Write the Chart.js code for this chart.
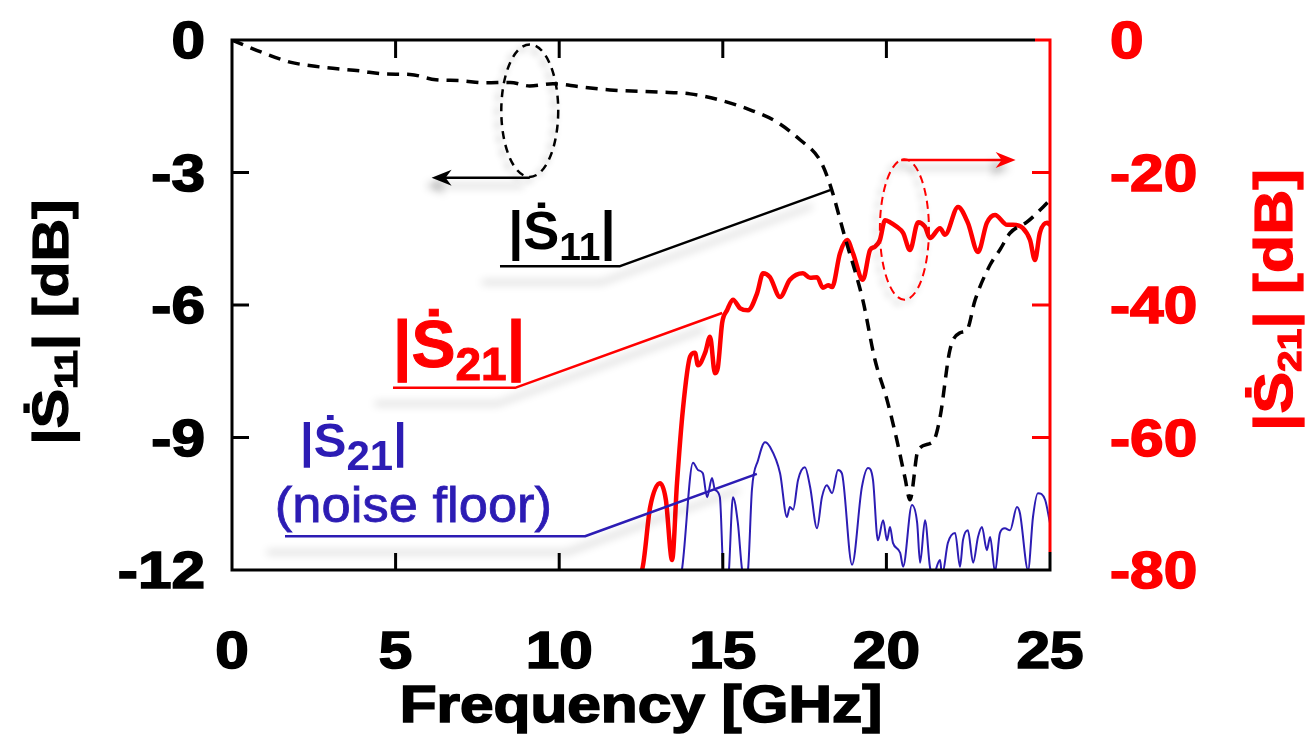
<!DOCTYPE html>
<html>
<head>
<meta charset="utf-8">
<script src="https://cdn.jsdelivr.net/npm/chart.js@4.4.1/dist/chart.umd.min.js"></script>
<style>
  html, body { margin: 0; background: #fff; }
</style>
</head>
<body>
<canvas id="chart" width="1305" height="750"></canvas>
<script>
// |S11| (left axis, dB)
const s11Freq = [0, 0.95, 1.77, 2.69, 3.91, 4.68, 5.44, 6.23, 6.97, 7.73, 8.5, 9.1, 9.81, 10.64, 11.55, 13.08, 14.0, 14.91, 15.83, 16.66, 17.36, 17.97, 18.28, 18.73, 19.28, 19.65, 20.02, 20.32, 20.57, 20.72, 20.97, 21.42, 21.64, 21.94, 22.25, 22.46, 22.71, 23.17, 23.47, 23.78, 24.3, 24.79, 25.0];
const s11Db = [0, -0.29, -0.5, -0.61, -0.7, -0.77, -0.78, -0.9, -0.92, -0.97, -0.96, -1.04, -0.99, -1.06, -1.13, -1.18, -1.22, -1.36, -1.58, -1.86, -2.26, -2.72, -3.28, -4.46, -5.89, -7.24, -8.15, -9.06, -9.92, -10.41, -9.28, -9.1, -8.54, -7.02, -6.63, -6.57, -5.89, -5.09, -4.75, -4.37, -4.12, -3.78, -3.62];

// |S21| (right axis, dB)
const s21Freq = [12.35, 12.53, 12.78, 13.08, 13.26, 13.45, 13.6, 13.78, 14.0, 14.15, 14.24, 14.46, 14.61, 14.76, 14.85, 14.98, 15.13, 15.31, 15.53, 15.77, 16.05, 16.23, 16.44, 16.75, 17.05, 17.45, 17.67, 17.88, 18.06, 18.22, 18.34, 18.58, 18.8, 18.98, 19.28, 19.5, 19.65, 19.8, 19.96, 20.11, 20.32, 20.51, 20.72, 20.97, 21.18, 21.33, 21.64, 21.79, 22.19, 22.49, 22.8, 23.07, 23.32, 23.69, 23.87, 24.17, 24.39, 24.54, 24.69, 24.91, 25.0];
const s21Db = [-80.8, -80, -70.5, -66.9, -69.4, -78.5, -66.9, -55.8, -47.8, -47.2, -49.1, -47.2, -44.8, -50.3, -49.4, -42.7, -40.8, -39.2, -40.5, -40.8, -38.2, -35.2, -35.8, -38.8, -36.2, -35.2, -35.9, -35.8, -37.4, -37.0, -37.3, -32.2, -30.2, -32.2, -36.2, -31.7, -31.2, -30.2, -27.2, -27.5, -28.2, -29.1, -31.7, -27.5, -28.2, -29.9, -28.4, -29.4, -25.2, -27.6, -32.0, -27.6, -26.4, -27.9, -27.9, -28.4, -30.2, -33.2, -29.1, -27.6, -27.9];

// |S21| noise floor (right axis, dB)
const noiseFreq = [13.69, 13.75, 14.09, 14.24, 14.39, 14.52, 14.67, 14.76, 14.91, 15.01, 15.04, 15.16, 15.31, 15.46, 15.59, 15.68, 15.77, 15.89, 16.08, 16.29, 16.44, 16.75, 16.96, 17.05, 17.15, 17.3, 17.51, 17.67, 17.88, 18.03, 18.18, 18.34, 18.52, 18.64, 18.95, 19.25, 19.44, 19.59, 19.74, 19.9, 20.02, 20.11, 20.2, 20.42, 20.51, 20.78, 20.94, 21.03, 21.18, 21.33, 21.42, 21.64, 21.7, 21.88, 22.1, 22.25, 22.34, 22.49, 22.65, 22.8, 22.92, 23.07, 23.17, 23.32, 23.47, 23.62, 23.78, 23.99, 24.08, 24.33, 24.48, 24.63, 24.85, 25.0];
const noiseDb = [-80.8, -80, -63.8, -64.9, -65.4, -69.0, -66.1, -67.9, -69.0, -80, -81.2, -81.2, -69.0, -72.9, -80, -81.2, -80, -67.9, -63.4, -60.7, -61.4, -65.4, -72.0, -70.5, -70.9, -66.4, -64.5, -67.5, -73.7, -69.0, -67.2, -68.4, -64.9, -65.4, -79.2, -67.5, -64.6, -66.4, -75.5, -72.5, -75.5, -73.5, -75.9, -77.4, -79.5, -70.2, -72.9, -78.9, -72.5, -79.5, -80.8, -78.5, -80.8, -75.9, -74.4, -79.5, -75.5, -74.0, -78.9, -75.0, -73.5, -77.0, -75.0, -80.3, -74.4, -73.7, -74.0, -70.5, -71.4, -80, -72.0, -68.4, -69.4, -72.9];

const xTicks = [0, 5, 10, 15, 20, 25];
const leftTicks = [0, -3, -6, -9, -12];
const rightTicks = [0, -20, -40, -60, -80];

const RED = '#ff0000';
const BLUE = '#2c1cb4';
const FONT = '"Liberation Sans", Arial, sans-serif';

function toPoints(xs, ys) {
  return xs.map((x, i) => ({ x: x, y: ys[i] }));
}

// draws a run of text pieces (with subscripts) starting at 0,0 in current transform
function richText(ctx, parts, align, heavy) {
  let total = 0;
  parts.forEach(p => { ctx.font = p.font; total += ctx.measureText(p.t).width; });
  let x = align === 'center' ? -total / 2 : (align === 'right' ? -total : 0);
  ctx.textAlign = 'left';
  ctx.textBaseline = 'alphabetic';
  parts.forEach(p => {
    ctx.font = p.font;
    ctx.fillStyle = p.color;
    ctx.fillText(p.t, x, p.dy || 0);
    if (heavy) {
      ctx.strokeStyle = p.color;
      ctx.lineWidth = heavy;
      ctx.setLineDash([]);
      ctx.strokeText(p.t, x, p.dy || 0);
    }
    x += ctx.measureText(p.t).width;
  });
}

function sLabel(main, sub, subDy, idx, color, weight) {
  const w = weight || 'bold';
  return [
    { t: '|', font: `${w} ${main}px ${FONT}`, color: color },
    { t: '\u1E60', font: `${w} ${main}px ${FONT}`, color: color },
    { t: idx, font: `${w} ${sub}px ${FONT}`, color: color, dy: subDy },
    { t: '|', font: `${w} ${main}px ${FONT}`, color: color }
  ];
}

function arrowHead(ctx, x, y, dir, len, half) {
  ctx.beginPath();
  ctx.moveTo(x, y);
  ctx.lineTo(x - dir * len, y - half);
  ctx.lineTo(x - dir * len * 0.7, y);
  ctx.lineTo(x - dir * len, y + half);
  ctx.closePath();
  ctx.fill();
}

const decor = {
  id: 'decor',
  afterDatasetsDraw(chart) {
    const ctx = chart.ctx;
    const a = chart.chartArea;
    const sx = chart.scales.x, sy = chart.scales.y, sr = chart.scales.y2;
    const X = v => sx.getPixelForValue(v);
    const YL = v => sy.getPixelForValue(v);
    const YR = v => sr.getPixelForValue(v);
    const shadow = (on) => {
      ctx.shadowColor = on ? 'rgba(0,0,0,0.28)' : 'transparent';
      ctx.shadowBlur = on ? 9 : 0;
      ctx.shadowOffsetX = on ? -18 : 0;
      ctx.shadowOffsetY = on ? 16 : 0;
    };

    ctx.save();
    ctx.lineCap = 'butt';

    // frame
    ctx.lineWidth = 3;
    ctx.strokeStyle = '#000';
    ctx.beginPath();
    ctx.moveTo(a.right - 15, a.top);
    ctx.lineTo(a.left, a.top);
    ctx.lineTo(a.left, a.bottom);
    ctx.lineTo(a.right, a.bottom);
    ctx.lineTo(a.right, a.bottom - 18);
    ctx.stroke();
    ctx.strokeStyle = RED;
    ctx.beginPath();
    ctx.moveTo(a.right - 15, a.top);
    ctx.lineTo(a.right, a.top);
    ctx.lineTo(a.right, a.bottom - 18);
    ctx.stroke();

    // inward tick marks
    ctx.strokeStyle = '#000';
    ctx.beginPath();
    xTicks.slice(1, -1).forEach(t => {
      const p = X(t);
      ctx.moveTo(p, a.bottom); ctx.lineTo(p, a.bottom - 17);
      ctx.moveTo(p, a.top); ctx.lineTo(p, a.top + 18);
    });
    leftTicks.slice(1, -1).forEach(t => {
      const p = YL(t);
      ctx.moveTo(a.left, p); ctx.lineTo(a.left + 17, p);
    });
    ctx.stroke();
    ctx.strokeStyle = RED;
    ctx.beginPath();
    rightTicks.slice(1, -1).forEach(t => {
      const p = YR(t);
      ctx.moveTo(a.right, p); ctx.lineTo(a.right - 18, p);
    });
    ctx.stroke();

    // tick labels (wide, heavy face)
    const tickFont = `bold 52px ${FONT}`;
    const stretch = 1.16;
    const label = (txt, x, y, align, color) => {
      ctx.save();
      ctx.translate(x, y);
      ctx.scale(stretch, 1);
      ctx.font = tickFont;
      ctx.fillStyle = color;
      ctx.strokeStyle = color;
      ctx.lineWidth = 1.6;
      ctx.textAlign = align;
      ctx.textBaseline = 'alphabetic';
      ctx.fillText(txt, 0, 0);
      ctx.strokeText(txt, 0, 0);
      ctx.restore();
    };
    xTicks.forEach(t => label(String(t), X(t), a.bottom + 98, 'center', '#000'));
    leftTicks.forEach(t => label(String(t), a.left - 27, YL(t) + 18, 'right', '#000'));
    rightTicks.forEach(t => label(String(t), a.right + 60, YR(t) + 18, 'left', RED));

    // axis titles
    ctx.save();
    ctx.translate((a.left + a.right) / 2, a.bottom + 152);
    ctx.scale(stretch, 1);
    richText(ctx, [{ t: 'Frequency [GHz]', font: `bold 52px ${FONT}`, color: '#000' }], 'center', 1.6);
    ctx.restore();

    const axisTitle = (cx, cy, size, idx, color) => {
      ctx.save();
      ctx.translate(cx, cy);
      ctx.rotate(-Math.PI / 2);
      ctx.scale(1.18, 1);
      const parts = sLabel(size, size * 0.62, size * 0.17, idx, color);
      parts.push({ t: ' [dB]', font: `bold ${size}px ${FONT}`, color: color });
      richText(ctx, parts, 'center', 1.2);
      ctx.restore();
    };
    axisTitle(68, 322, 50, '11', '#000');
    axisTitle(1292, 300, 53, '21', RED);

    // ellipse markers with arrows
    const ellipse = (cx, cy, rx, ry, color, width, dash) => {
      ctx.save();
      ctx.shadowColor = 'rgba(0,0,0,0.3)';
      ctx.shadowBlur = 7;
      ctx.shadowOffsetX = -4;
      ctx.shadowOffsetY = 4;
      ctx.strokeStyle = color;
      ctx.lineWidth = width;
      ctx.setLineDash(dash);
      ctx.beginPath();
      ctx.ellipse(cx, cy, rx, ry, 0, 0, Math.PI * 2);
      ctx.stroke();
      ctx.restore();
    };
    ellipse(X(9.1), YL(-1.6), X(9.97) - X(9.1), YL(-3.1) - YL(-1.6), '#000', 2.5, [8, 6]);
    ellipse(X(20.55), YR(-28.6), X(21.3) - X(20.55), YR(-39.2) - YR(-28.6), RED, 2, [8, 5]);

    ctx.save();
    shadow(true);
    ctx.shadowOffsetX = -6; ctx.shadowOffsetY = 8;
    ctx.lineWidth = 2.5;
    ctx.strokeStyle = '#000';
    ctx.fillStyle = '#000';
    ctx.beginPath();
    ctx.moveTo(X(9.1), YL(-3.12)); ctx.lineTo(X(6.4), YL(-3.12));
    ctx.stroke();
    arrowHead(ctx, X(6.1), YL(-3.12), -1, 20, 8);
    ctx.strokeStyle = RED;
    ctx.fillStyle = RED;
    ctx.beginPath();
    ctx.moveTo(X(20.45), YR(-18.1)); ctx.lineTo(X(23.6), YR(-18.1));
    ctx.stroke();
    arrowHead(ctx, X(23.95), YR(-18.1), 1, 20, 8);
    ctx.restore();

    // leader lines with drop shadows
    const leader = (pts, color, width) => {
      ctx.save();
      shadow(true);
      ctx.strokeStyle = color;
      ctx.lineWidth = width;
      ctx.lineJoin = 'round';
      ctx.beginPath();
      pts.forEach((p, i) => i ? ctx.lineTo(p[0], p[1]) : ctx.moveTo(p[0], p[1]));
      ctx.stroke();
      ctx.restore();
    };
    leader([[X(8.19), YL(-5.12)], [X(11.86), YL(-5.12)], [X(18.28), YL(-3.4)]], '#000', 2.5);
    leader([[X(4.92), YR(-52.5)], [X(8.65), YR(-52.5)], [X(14.98), YR(-41.2)]], RED, 2.5);
    leader([[X(1.62), YR(-74.9)], [X(10.79), YR(-74.9)], [X(16.04), YR(-65.5)]], BLUE, 2.5);

    // curve labels
    ctx.save();
    ctx.translate(X(8.44), YL(-4.74));
    richText(ctx, sLabel(54, 39, 11, '11', '#000'), 'left');
    ctx.restore();
    ctx.save();
    ctx.translate(X(4.92), YR(-49.4));
    richText(ctx, sLabel(66, 46, 13, '21', RED), 'left', 1);
    ctx.restore();
    ctx.save();
    ctx.translate(X(2.08), YR(-62.9));
    richText(ctx, sLabel(49, 42, 13, '21', BLUE), 'left');
    ctx.restore();
    ctx.save();
    ctx.translate(X(1.31), YR(-72.8));
    ctx.scale(1.05, 1);
    richText(ctx, [{ t: '(noise floor)', font: `50px ${FONT}`, color: BLUE }], 'left', 0.8);
    ctx.restore();

    ctx.restore();
  }
};

const config = {
  type: 'line',
  data: {
    datasets: [
      {
        label: '|S11|',
        data: toPoints(s11Freq, s11Db),
        yAxisID: 'y',
        borderColor: '#000',
        borderWidth: 3.5,
        borderDash: [12, 8],
        pointRadius: 0,
        cubicInterpolationMode: 'monotone'
      },
      {
        label: '|S21|',
        data: toPoints(s21Freq, s21Db),
        yAxisID: 'y2',
        borderColor: RED,
        borderWidth: 4.5,
        pointRadius: 0,
        cubicInterpolationMode: 'monotone'
      },
      {
        label: '|S21| noise floor',
        data: toPoints(noiseFreq, noiseDb),
        yAxisID: 'y2',
        borderColor: BLUE,
        borderWidth: 2,
        pointRadius: 0,
        cubicInterpolationMode: 'monotone'
      }
    ]
  },
  options: {
    responsive: false,
    animation: false,
    devicePixelRatio: 1,
    layout: { padding: { top: 40, left: 0, right: 0, bottom: 0 } },
    plugins: {
      legend: { display: false },
      tooltip: { enabled: false }
    },
    scales: {
      x: {
        type: 'linear',
        min: 0,
        max: 25,
        ticks: { display: false },
        grid: { display: false },
        border: { display: false },
        afterFit: s => { s.height = 180; }
      },
      y: {
        position: 'left',
        min: -12,
        max: 0,
        ticks: { display: false, stepSize: 3 },
        grid: { display: false },
        border: { display: false },
        afterFit: s => { s.width = 232; }
      },
      y2: {
        position: 'right',
        min: -80,
        max: 0,
        ticks: { display: false, stepSize: 20 },
        grid: { display: false },
        border: { display: false },
        afterFit: s => { s.width = 255; }
      }
    }
  },
  plugins: [decor]
};

new Chart(document.getElementById('chart'), config);
</script>
</body>
</html>
